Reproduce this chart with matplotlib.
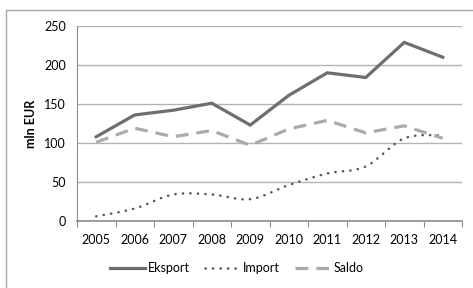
import matplotlib.pyplot as plt
import numpy as np
from matplotlib.path import Path
from matplotlib.patches import PathPatch, Rectangle
from matplotlib.lines import Line2D

plt.rcParams['font.family'] = ['Lato', 'DejaVu Sans']

years = ["2005", "2006", "2007", "2008", "2009", "2010", "2011", "2012", "2013", "2014"]
eksport = [108, 136, 142, 151, 123, 161, 190, 184, 229, 210]
imports = [6, 16, 34, 34, 28, 46, 61, 70, 106, 110]
saldo = [101, 119, 108, 116, 97, 118, 129, 113, 122, 106]

fig = plt.figure(figsize=(4.73, 2.88), dpi=100)
ax = fig.add_axes([77 / 473, 1 - 221 / 288, 385 / 473, 195 / 288])

# outer chart frame (clipped at right/bottom like the source)
fig.patches.append(Rectangle((6 / 473, -0.1), 1.2, 1 - 9.5 / 288 + 0.1,
                             transform=fig.transFigure, fill=False,
                             edgecolor='#a6a6a6', linewidth=1.0))

x = np.arange(len(years))
ax.plot(x, eksport, color='#6e6e6e', linewidth=2.3, solid_joinstyle='miter')
ax.plot(x, saldo, color='#ababab', linewidth=2.3, dashes=(4, 2.5))


def smooth_path(xs, ys):
    # Excel-style smoothed line: cubic bezier through each point
    pts = np.column_stack([xs, ys]).astype(float)
    verts = [pts[0]]
    codes = [Path.MOVETO]
    n = len(pts)
    for i in range(n - 1):
        p0 = pts[i - 1] if i > 0 else pts[i]
        p1, p2 = pts[i], pts[i + 1]
        p3 = pts[i + 2] if i + 2 < n else pts[i + 1]
        c1 = p1 + (p2 - p0) / 6
        c2 = p2 - (p3 - p1) / 6
        verts += [c1, c2, p2]
        codes += [Path.CURVE4] * 3
    return Path(verts, codes)


dot_style = (0, (0.1, 2.9))
ax.add_patch(PathPatch(smooth_path(x, imports), fill=False, edgecolor='#555555',
                       linewidth=1.8, linestyle=dot_style, capstyle='round'))

ax.set_xlim(-0.5, len(years) - 0.5)
ax.set_ylim(0, 250)
ax.set_yticks([0, 50, 100, 150, 200, 250])
ax.set_xticks(np.arange(-0.5, len(years), 1), minor=False)
ax.set_xticklabels([])
ax.set_xticks(x, minor=True)
ax.set_xticklabels(years, minor=True)
ax.tick_params(axis='x', which='major', length=4, color='#8c8c8c', width=0.8)
ax.tick_params(axis='x', which='minor', length=0, pad=9, labelsize=9)
ax.tick_params(axis='y', length=0, pad=8, labelsize=9)
ax.grid(axis='y', color='#b3b3b3', linewidth=1.0)
ax.set_axisbelow(True)
for s in ['top', 'right']:
    ax.spines[s].set_visible(False)
ax.spines['left'].set_color('#8c8c8c')
ax.spines['bottom'].set_color('#8c8c8c')
ax.spines['bottom'].set_linewidth(1.2)
ax.set_ylabel('mln EUR', fontsize=9, fontweight='bold', labelpad=5)

handles = [
    Line2D([], [], color='#6e6e6e', linewidth=2.3),
    Line2D([], [], color='#555555', linewidth=1.8, linestyle=dot_style,
           dash_capstyle='round'),
    Line2D([], [], color='#ababab', linewidth=2.3, dashes=(4, 2.5)),
]
fig.legend(handles, ['Eksport', 'Import', 'Saldo'], loc='center',
           bbox_to_anchor=(0.5, 1 - 268 / 288), ncol=3, frameon=False,
           fontsize=9, handlelength=2.8, columnspacing=1.2, handletextpad=0.25)

fig.savefig('out.png', dpi=100)
